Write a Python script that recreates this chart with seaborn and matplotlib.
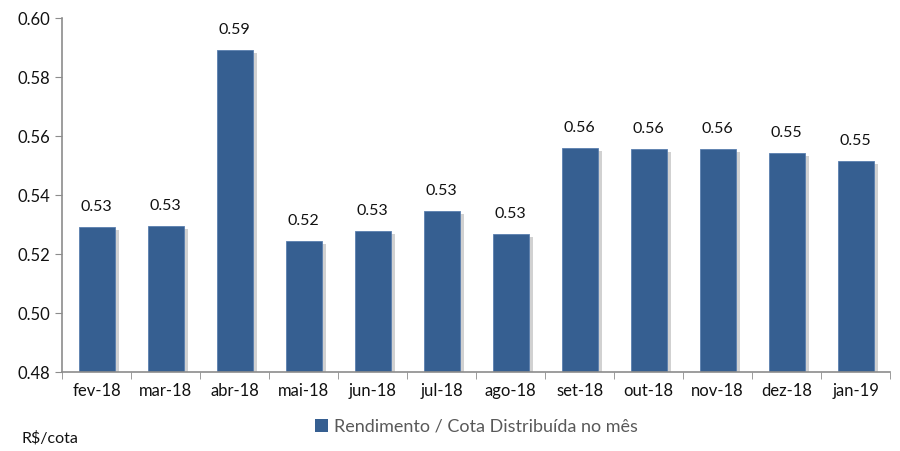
import matplotlib
matplotlib.use("Agg")
import matplotlib.pyplot as plt
import matplotlib.patheffects as pe
from matplotlib.patches import Patch
import numpy as np
import pandas as pd
import seaborn as sns

months = ["fev-18", "mar-18", "abr-18", "mai-18", "jun-18", "jul-18",
          "ago-18", "set-18", "out-18", "nov-18", "dez-18", "jan-19"]
values = [0.5292, 0.5295, 0.5892, 0.5244, 0.5278, 0.5346,
          0.5268, 0.5559, 0.5556, 0.5556, 0.5542, 0.5515]
yticks = [0.48, 0.50, 0.52, 0.54, 0.56, 0.58, 0.60]
series_name = "Rendimento / Cota Distribuída no mês"

sns.set_style("white")
plt.rcParams['font.family'] = ['Lato', 'DejaVu Sans']

df = pd.DataFrame({"mes": months, "valor": values})

fig = plt.figure(figsize=(9, 4.51), dpi=100)
ax = fig.add_axes([0.069, 0.175, 0.92, 0.785])

bar_color = "#365F91"
sns.barplot(data=df, x="mes", y="valor", color=bar_color, width=0.52,
            saturation=1, ax=ax)
for p in ax.patches:
    p.set_edgecolor("#5A7FAE")
    p.set_linewidth(0.6)
    p.set_path_effects([pe.SimplePatchShadow(offset=(3, -2), shadow_rgbFace="#9a9a9a", alpha=0.45),
                        pe.Normal()])

ax.set_ylim(0.48, 0.60)
ax.set_xlim(-0.5, len(months) - 0.5)
ax.set_yticks(yticks)
ax.set_yticklabels([f"{t:.2f}" for t in yticks])
ax.set_xlabel("")
ax.set_ylabel("")

for i, v in enumerate(values):
    ax.text(i, v + 0.0045, f"{v:.2f}", ha="center", va="bottom", fontsize=11.5, color="#111111")

for s in ["top", "right"]:
    ax.spines[s].set_visible(False)
for s in ["left", "bottom"]:
    ax.spines[s].set_color("#8c8c8c")
    ax.spines[s].set_linewidth(1.2)

ax.tick_params(axis="y", which="major", length=5, color="#8c8c8c", direction="out",
               labelsize=12, labelcolor="#111111", left=True)
ax.tick_params(axis="x", which="major", length=0, labelsize=12, labelcolor="#111111", pad=8)
ax.set_xticks(np.arange(-0.5, len(months), 1.0), minor=True)
ax.tick_params(axis="x", which="minor", length=5, color="#8c8c8c", direction="out", bottom=True)

handle = Patch(facecolor=bar_color, edgecolor="none")
leg = ax.legend([handle], [series_name], loc="upper center", bbox_to_anchor=(0.5, -0.085),
                frameon=False, fontsize=13, handlelength=0.75, handleheight=0.75,
                handletextpad=0.3)
for t in leg.get_texts():
    t.set_color("#595959")

fig.text(0.024, 0.012, "R$/cota", fontsize=11.5, color="#111111", ha="left", va="bottom")

fig.savefig("out.png", dpi=100)
